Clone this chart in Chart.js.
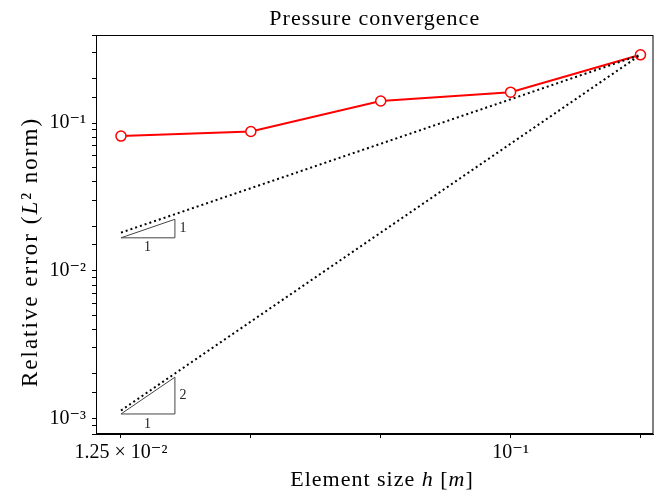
<!DOCTYPE html>
<html>
<head>
<meta charset="utf-8">
<script src="https://cdn.jsdelivr.net/npm/chart.js@4.4.1/dist/chart.umd.min.js"></script>
<style>
html,body{margin:0;padding:0;background:#fff;}
#wrap{width:660px;height:498px;}
</style>
</head>
<body>
<div id="wrap"><canvas id="c" width="660" height="498"></canvas></div>
<script>
// ---- data ----
const hValues = [0.0125, 0.025, 0.05, 0.1, 0.2];
const pressureError = [0.0816, 0.0876, 0.141, 0.162, 0.29];
const refH = [0.0125, 0.2];
const refOrder1 = [0.0181, 0.29];
const refOrder2 = [0.00113, 0.29];
const tri1H = [0.0125, 0.01667, 0.01667, 0.0125];
const tri1E = [0.0167, 0.0167, 0.0223, 0.0167];
const tri2H = [0.0125, 0.01667, 0.01667, 0.0125];
const tri2E = [0.00107, 0.00107, 0.0019, 0.00107];
const xTickValues = [0.0125, 0.025, 0.05, 0.1, 0.2];
const xTickLabels = {0.0125: '1.25 × 10⁻²', 0.1: '10⁻¹'};
const yTickLabels = {1e-1: '10⁻¹', 1e-2: '10⁻²', 1e-3: '10⁻³'};

const pts = (xs, ys) => xs.map((x, i) => ({x: x, y: ys[i]}));
const SERIF = '"Liberation Serif", "DejaVu Serif", serif';

const framePlugin = {
  id: 'frame',
  afterDraw(chart) {
    const {ctx, chartArea: a} = chart;
    ctx.save();
    ctx.strokeStyle = '#000';
    ctx.lineWidth = 1;
    ctx.strokeRect(a.left + 0.5, a.top + 0.5, a.right - a.left - 1, a.bottom - a.top - 1);
    // triangle labels
    const xs = chart.scales.x, ys = chart.scales.y;
    ctx.fillStyle = '#222';
    ctx.font = '14px ' + SERIF;
    ctx.textAlign = 'center';
    ctx.textBaseline = 'middle';
    ctx.fillText('1', xs.getPixelForValue(0.0144), ys.getPixelForValue(0.0167) + 10);
    ctx.fillText('1', xs.getPixelForValue(0.01667) + 8, ys.getPixelForValue(0.0193));
    ctx.fillText('1', xs.getPixelForValue(0.0144), ys.getPixelForValue(0.00107) + 10);
    ctx.fillText('2', xs.getPixelForValue(0.01667) + 8, ys.getPixelForValue(0.00143));
    // title
    ctx.fillStyle = '#000';
    ctx.letterSpacing = '1px';
    ctx.font = '22px ' + SERIF;
    ctx.textBaseline = 'alphabetic';
    ctx.fillText('Pressure convergence', (a.left + a.right) / 2, 25);
    // axis labels with italic parts
    const drawMixed = (parts, cx, cy, size) => {
      let total = 0;
      parts.forEach(p => { ctx.font = p[1] + ' ' + size + 'px ' + SERIF; total += ctx.measureText(p[0]).width; });
      let x = cx - total / 2;
      ctx.textAlign = 'left';
      parts.forEach(p => { ctx.font = p[1] + ' ' + size + 'px ' + SERIF; ctx.fillText(p[0], x, cy); x += ctx.measureText(p[0]).width; });
    };
    drawMixed([['Element size ', 'normal'], ['h', 'italic'], [' [', 'normal'], ['m', 'italic'], [']', 'normal']], 382, 486, 22);
    ctx.save();
    ctx.translate(37, 252);
    ctx.rotate(-Math.PI / 2);
    ctx.letterSpacing = '2px';
    drawMixed([['Relative error (', 'normal'], ['L', 'italic'], ['²', 'normal'], [' norm)', 'normal']], 0, 0, 23);
    ctx.restore();
    ctx.restore();
  }
};

new Chart(document.getElementById('c'), {
  type: 'line',
  data: {
    datasets: [
      {data: pts(refH, refOrder1), borderColor: '#000', borderWidth: 2, borderDash: [2, 3], pointRadius: 0, fill: false},
      {data: pts(refH, refOrder2), borderColor: '#000', borderWidth: 2, borderDash: [2, 3], pointRadius: 0, fill: false},
      {data: pts(tri1H, tri1E), borderColor: '#444', borderWidth: 1, pointRadius: 0, fill: false},
      {data: pts(tri2H, tri2E), borderColor: '#444', borderWidth: 1, pointRadius: 0, fill: false},
      {data: pts(hValues, pressureError), borderColor: '#ff0000', borderWidth: 2, pointRadius: 5,
       pointBackgroundColor: '#fff', pointBorderColor: '#ff0000', pointBorderWidth: 1.5, fill: false}
    ]
  },
  options: {
    responsive: false,
    animation: false,
    layout: {padding: {left: 0, right: 4, top: 35, bottom: 0}},
    plugins: {legend: {display: false}, tooltip: {enabled: false}},
    scales: {
      x: {
        type: 'logarithmic', min: 0.01094, max: 0.2144,
        afterFit(s) { s.height = 64; },
        afterBuildTicks(s) { s.ticks = xTickValues.map(v => ({value: v})); },
        grid: {drawOnChartArea: false, drawTicks: true, tickLength: 4, color: '#000'},
        border: {display: true, color: '#000'},
        ticks: {
          autoSkip: false, maxRotation: 0, padding: 3, color: '#000',
          font: {family: SERIF, size: 20},
          callback(v) { return xTickLabels[v] || ''; }
        }
      },
      y: {
        type: 'logarithmic', min: 0.000783, max: 0.395,
        afterFit(s) { s.width = 96; },
        grid: {drawOnChartArea: false, drawTicks: true, tickLength: 4, color: '#000'},
        border: {display: true, color: '#000'},
        ticks: {
          autoSkip: false, padding: 6, color: '#000',
          font: {family: SERIF, size: 20},
          callback(v) {
            for (const k in yTickLabels) { if (Math.abs(v - Number(k)) / Number(k) < 1e-6) return yTickLabels[k]; }
            return '';
          }
        }
      }
    }
  },
  plugins: [framePlugin]
});
</script>
</body>
</html>
